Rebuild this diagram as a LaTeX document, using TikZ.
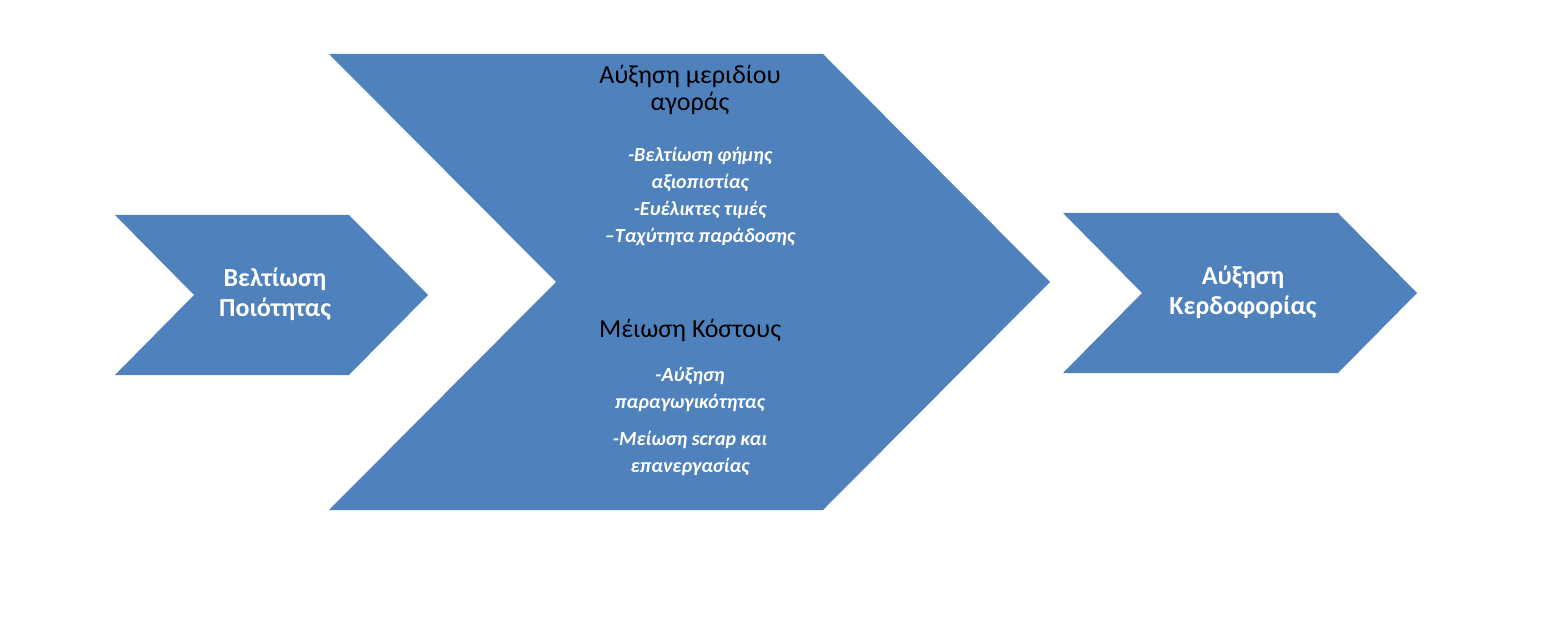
\documentclass[tikz,border=0pt]{standalone}
\usepackage{fontspec}
\setmainfont{Carlito}
\begin{document}
\begin{tikzpicture}[x=1pt,y=-1pt,
 chev/.style={fill=blue1,draw=none},
 big/.style={font=\fontsize{26}{30}\selectfont\bfseries,text=white,align=center},
 head/.style={font=\fontsize{26}{27}\selectfont,text=black,align=center},
 sub/.style={font=\fontsize{20}{27}\selectfont\bfseries\itshape,text=white,align=center}]
\definecolor{blue1}{HTML}{4F81BD}
\useasboundingbox (0,0) rectangle (1544,617);
\fill[chev] (115,215) -- (349,215) -- (428,295) -- (349,375) -- (115,375) -- (194,295) -- cycle;
\fill[chev] (329,54) -- (823,54) -- (1050,282) -- (823,510) -- (329,510) -- (556,282) -- cycle;
\fill[chev] (1063,213) -- (1338,213) -- (1417,293) -- (1338,373) -- (1063,373) -- (1142,293) -- cycle;
\node[big] (a) at (275,294) {Βελτίωση\\Ποιότητας};
\node[big] (c) at (1243,292) {Αύξηση\\Κερδοφορίας};
\node[head] (h1) at (690,90) {Αύξηση μεριδίου\\αγοράς};
\node[sub] (s1) at (700,197) {-Βελτίωση φήμης\\αξιοπιστίας\\-Ευέλικτες τιμές\\--Ταχύτητα παράδοσης};
\node[head] (h2) at (690,330) {Μέιωση Κόστους};
\node[sub] (s2) at (690,389) {-Αύξηση\\παραγωγικότητας};
\node[sub] (s3) at (690,453) {-Μείωση scrap και\\επανεργασίας};
\end{tikzpicture}
\end{document}
